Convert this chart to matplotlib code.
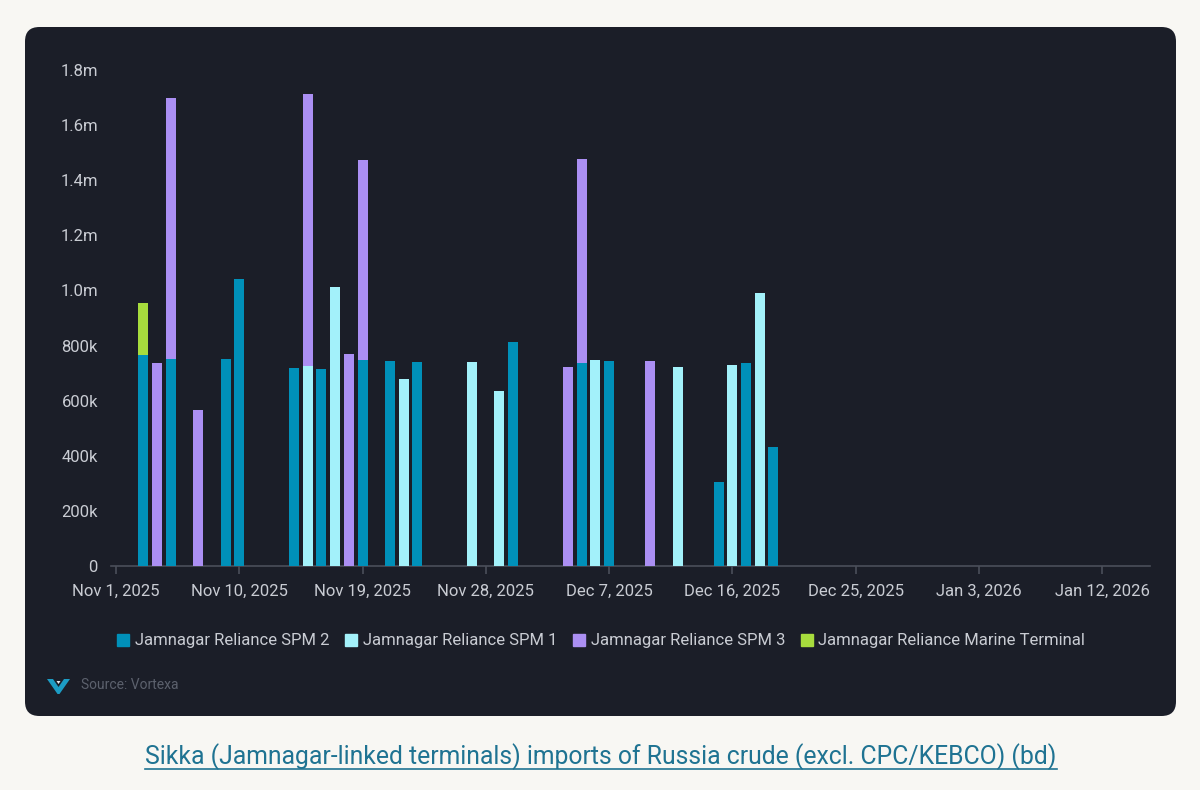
import pandas as pd
import matplotlib
matplotlib.use("Agg")
from matplotlib import pyplot as plt
import matplotlib.dates as mdates
from matplotlib.patches import FancyBboxPatch, Polygon
from matplotlib.lines import Line2D
from matplotlib.ticker import FuncFormatter

plt.rcParams['font.family'] = ['Roboto', 'DejaVu Sans']

# Data (barrels per day)
spm2_dates = ["2025-11-03", "2025-11-05", "2025-11-09", "2025-11-10", "2025-11-14",
              "2025-11-16", "2025-11-19", "2025-11-21", "2025-11-23", "2025-11-30",
              "2025-12-05", "2025-12-07", "2025-12-15", "2025-12-17", "2025-12-19"]
spm2_values = [766e3, 752e3, 750e3, 1043e3, 718e3,
               716e3, 746e3, 745e3, 741e3, 812e3,
               735e3, 744e3, 304e3, 735e3, 431e3]

spm1_dates = ["2025-11-15", "2025-11-17", "2025-11-22", "2025-11-27", "2025-11-29",
              "2025-12-06", "2025-12-12", "2025-12-16", "2025-12-18"]
spm1_values = [726e3, 1011e3, 680e3, 739e3, 634e3,
               749e3, 721e3, 728e3, 992e3]

spm3_dates = ["2025-11-04", "2025-11-05", "2025-11-07", "2025-11-15", "2025-11-18",
              "2025-11-19", "2025-12-04", "2025-12-05", "2025-12-10"]
spm3_values = [737e3, 948e3, 566e3, 988e3, 768e3,
               726e3, 721e3, 742e3, 743e3]

marine_dates = ["2025-11-03"]
marine_values = [187e3]

series_names = ["Jamnagar Reliance SPM 2", "Jamnagar Reliance SPM 1",
                "Jamnagar Reliance SPM 3", "Jamnagar Reliance Marine Terminal"]
series_colors = ["#0090B9", "#A3F1FA", "#AB8FF3", "#A7DC3D"]

#Montando tabela empilhada
frames = []
for name, d, v in zip(series_names,
                      [spm2_dates, spm1_dates, spm3_dates, marine_dates],
                      [spm2_values, spm1_values, spm3_values, marine_values]):
    frames.append(pd.Series(v, index=pd.to_datetime(d), name=name))
df = pd.concat(frames, axis=1).fillna(0).sort_index()

bg_page = "#F8F7F3"
bg_panel = "#1B1E28"
text_col = "#C9CCD3"
axis_col = "#4B4F5A"

fig = plt.figure(figsize=(12, 7.9), dpi=100)
fig.patch.set_facecolor(bg_page)

W, H = 1200, 790
panel = FancyBboxPatch((25 / W, 1 - 716 / H), 1151 / W, 689 / H,
                       boxstyle="round,pad=0,rounding_size=0.012",
                       transform=fig.transFigure, facecolor=bg_panel,
                       edgecolor="none", mutation_aspect=W / H, zorder=-5)
fig.patches.append(panel)

ax = fig.add_axes([111 / W, 1 - 566 / H, (1150 - 111) / W, (566 - 70) / H])
ax.set_facecolor("none")
ax.set_zorder(2)

x = pd.Series(mdates.date2num(df.index.to_pydatetime()), index=df.index)
bottom = pd.Series(0.0, index=df.index)
for name, color in zip(series_names, series_colors):
    mask = df[name] > 0
    ax.bar(x[mask], df[name][mask], width=0.73, bottom=bottom[mask], color=color,
           linewidth=0, zorder=3)
    bottom += df[name]

start = mdates.date2num(pd.Timestamp("2025-11-01").to_pydatetime())
ax.set_xlim(start - 0.365, start + 75.5)
ax.set_ylim(0, 1.8e6)

tick_dates = pd.date_range("2025-11-01", periods=9, freq="9D")
ax.set_xticks(mdates.date2num(tick_dates.to_pydatetime()))
ax.set_xticklabels([f"{d.strftime('%b')} {d.day}, {d.year}" for d in tick_dates])
ax.set_yticks([i * 200e3 for i in range(10)])


def fmt_y(v, pos):
    if v == 0:
        return "0"
    if v < 1e6:
        return f"{int(round(v / 1e3))}k"
    return f"{v / 1e6:.1f}m"


ax.yaxis.set_major_formatter(FuncFormatter(fmt_y))

for side in ["top", "right", "left"]:
    ax.spines[side].set_visible(False)
ax.spines["bottom"].set_color(axis_col)
ax.spines["bottom"].set_linewidth(1.2)
ax.tick_params(axis="x", colors=axis_col, length=6, width=1.2, labelcolor=text_col,
               labelsize=12, pad=7)
ax.tick_params(axis="y", length=0, labelcolor=text_col, labelsize=12, pad=9.4)

#Legenda
handles = [Line2D([0], [0], marker="s", linestyle="none", markersize=8,
                  markerfacecolor=c, markeredgecolor=c) for c in series_colors]
fig.legend(handles, series_names, loc="center", bbox_to_anchor=(601 / W, 1 - 641 / H),
           ncol=4, frameon=False, fontsize=12, labelcolor=text_col,
           handletextpad=0.3, columnspacing=0.9, handlelength=0.8)

#Fonte e logo
logo = Polygon([(47 / W, 1 - 679 / H), (53 / W, 1 - 679 / H), (58.5 / W, 1 - 687 / H),
                (64 / W, 1 - 679 / H), (70 / W, 1 - 679 / H), (59.5 / W, 1 - 694 / H),
                (57.5 / W, 1 - 694 / H)],
               closed=True, transform=fig.transFigure, facecolor="#1C9CC4",
               edgecolor="none")
fig.patches.append(logo)
notch = Polygon([(56.5 / W, 1 - 681 / H), (60.5 / W, 1 - 681 / H), (58.5 / W, 1 - 684 / H)],
                closed=True, transform=fig.transFigure, facecolor="#E8EAEE",
                edgecolor="none")
fig.patches.append(notch)
fig.text(81 / W, 1 - 685 / H, "Source: Vortexa", color="#5C616D", fontsize=10,
         va="center", ha="left")

#Titulo sublinhado
title = fig.text(601 / W, 1 - 757 / H,
                 "Sikka (Jamnagar-linked terminals) imports of Russia crude (excl. CPC/KEBCO) (bd)",
                 color="#1F7392", fontsize=17.8, ha="center", va="center")
fig.canvas.draw()
bb = title.get_window_extent(fig.canvas.get_renderer()).transformed(fig.transFigure.inverted())
fig.add_artist(Line2D([bb.x0, bb.x1], [bb.y0 + 0.002, bb.y0 + 0.002],
                      transform=fig.transFigure, color="#1F7392", linewidth=1.2))

fig.savefig("out.png", dpi=100, facecolor=fig.get_facecolor())
